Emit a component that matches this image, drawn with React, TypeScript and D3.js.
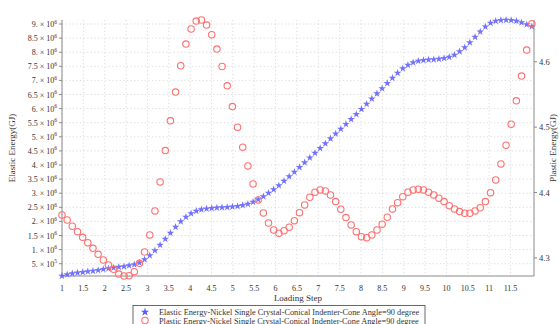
import React from "react";
import * as d3 from "d3";

// Loading step of every sample
const steps: number[] = [
  1, 1.121, 1.242, 1.363, 1.484, 1.604, 1.725, 1.846, 1.967, 2.088,
  2.209, 2.33, 2.451, 2.571, 2.692, 2.813, 2.934, 3.055, 3.176, 3.297,
  3.418, 3.538, 3.659, 3.78, 3.901, 4.022, 4.143, 4.264, 4.385, 4.505,
  4.626, 4.747, 4.868, 4.989, 5.11, 5.231, 5.352, 5.473, 5.593, 5.714,
  5.835, 5.956, 6.077, 6.198, 6.319, 6.44, 6.56, 6.681, 6.802, 6.923,
  7.044, 7.165, 7.286, 7.407, 7.527, 7.648, 7.769, 7.89, 8.011, 8.132,
  8.253, 8.374, 8.495, 8.615, 8.736, 8.857, 8.978, 9.099, 9.22, 9.341,
  9.462, 9.582, 9.703, 9.824, 9.945, 10.066, 10.187, 10.308, 10.429, 10.549,
  10.67, 10.791, 10.912, 11.033, 11.154, 11.275, 11.396, 11.516, 11.637, 11.758,
  11.879, 12,
];

// Elastic energy (GJ)
const elastic: number[] = [
  0.064e6, 0.117e6, 0.152e6, 0.177e6, 0.199e6, 0.223e6, 0.245e6, 0.27e6, 0.301e6, 0.33e6,
  0.355e6, 0.38e6, 0.404e6, 0.433e6, 0.472e6, 0.535e6, 0.649e6, 0.791e6, 0.968e6, 1.163e6,
  1.376e6, 1.589e6, 1.801e6, 1.996e6, 2.156e6, 2.28e6, 2.369e6, 2.422e6, 2.45e6, 2.468e6,
  2.482e6, 2.493e6, 2.504e6, 2.518e6, 2.539e6, 2.571e6, 2.617e6, 2.688e6, 2.777e6, 2.883e6,
  3.007e6, 3.131e6, 3.273e6, 3.433e6, 3.592e6, 3.752e6, 3.918e6, 4.089e6, 4.255e6, 4.426e6,
  4.596e6, 4.766e6, 4.936e6, 5.106e6, 5.277e6, 5.45e6, 5.624e6, 5.801e6, 5.982e6, 6.163e6,
  6.348e6, 6.532e6, 6.716e6, 6.901e6, 7.085e6, 7.262e6, 7.422e6, 7.546e6, 7.635e6, 7.688e6,
  7.716e6, 7.73e6, 7.741e6, 7.759e6, 7.787e6, 7.83e6, 7.901e6, 8.025e6, 8.167e6, 8.344e6,
  8.539e6, 8.727e6, 8.904e6, 9.035e6, 9.106e6, 9.131e6, 9.142e6, 9.131e6, 9.106e6, 9.053e6,
  8.982e6, 8.911e6,
];

// Plastic energy (GJ)
const plastic: number[] = [
  4.3657, 4.358, 4.3484, 4.3401, 4.3315, 4.3233, 4.3147, 4.3055, 4.2968, 4.2891,
  4.2825, 4.2753, 4.2723, 4.2727, 4.2789, 4.2917, 4.309, 4.3351, 4.3718, 4.4162,
  4.4642, 4.5096, 4.5536, 4.5939, 4.6271, 4.6501, 4.6623, 4.6639, 4.6562, 4.6413,
  4.6194, 4.5928, 4.5632, 4.5315, 4.5, 4.4694, 4.4407, 4.4132, 4.3887, 4.3688,
  4.3534, 4.3427, 4.3377, 4.3417, 4.3469, 4.357, 4.3692, 4.381, 4.3928, 4.4005,
  4.404, 4.4025, 4.3963, 4.3861, 4.3744, 4.3616, 4.3504, 4.3401, 4.3325, 4.3309,
  4.3351, 4.3427, 4.3515, 4.3622, 4.3749, 4.3845, 4.3937, 4.4005, 4.404, 4.4051,
  4.404, 4.4005, 4.3963, 4.3913, 4.3861, 4.3799, 4.3749, 4.3708, 4.3683, 4.3683,
  4.3718, 4.3767, 4.3861, 4.3998, 4.4193, 4.4438, 4.4724, 4.5046, 4.5403, 4.5781,
  4.6179, 4.6582,
];

const xTicks: number[] = [1, 1.5, 2, 2.5, 3, 3.5, 4, 4.5, 5, 5.5, 6, 6.5, 7, 7.5, 8, 8.5, 9, 9.5, 10, 10.5, 11, 11.5];
const leftTicks: number[] = [5e5, 1e6, 1.5e6, 2e6, 2.5e6, 3e6, 3.5e6, 4e6, 4.5e6, 5e6, 5.5e6, 6e6, 6.5e6, 7e6, 7.5e6, 8e6, 8.5e6, 9e6];
const rightTicks: number[] = [4.3, 4.4, 4.5, 4.6];

const seriesNames: string[] = [
  "Elastic Energy-Nickel Single Crystal-Conical Indenter-Cone Angle=90 degree",
  "Plastic Energy-Nickel Single Crystal-Conical Indenter-Cone Angle=90 degree",
];
const xTitle = "Loading Step";
const leftTitle = "Elastic Energy(GJ)";
const rightTitle = "Plastic Energy(GJ)";

const W = 560;
const H = 324;
const M = { left: 62, right: 534, top: 20, bottom: 276 };
const FONT = "'Liberation Serif', 'Times New Roman', serif";
const BLUE = "#5a5aff";
const RED = "#ff7070";
const GRID = "#d2d2d2";
const AXIS = "#8a8a8a";
const TXT = "#333";

function sciLabel(v: number) {
  const exp = Math.floor(Math.log10(v));
  const m = v / Math.pow(10, exp);
  const ms = Number.isInteger(Math.round(m * 1000) / 1000) ? `${Math.round(m)}.` : `${+m.toFixed(1)}`;
  return { ms, exp };
}

export default function App() {
  const x = d3.scaleLinear().domain([1, 12.05]).range([M.left, M.right]);
  const yL = d3.scaleLinear().domain(d3.extent(elastic) as [number, number]).range([M.bottom, M.top]);
  const yR = d3.scaleLinear().domain(d3.extent(plastic) as [number, number]).range([M.bottom, M.top]);
  const star = d3.symbol().type(d3.symbolStar).size(18)() as string;
  const legendStar = d3.symbol().type(d3.symbolStar).size(22)() as string;

  return (
    <svg width={W} height={H} style={{ position: "absolute", left: 0, top: 0, background: "#fff" }} fontFamily={FONT}>
      <rect x={0} y={0} width={W} height={H} fill="#fff" />
      {/* grid */}
      <g stroke={GRID} strokeWidth={0.8} strokeDasharray="1.2,2.4">
        {xTicks.map((t) => (
          <line key={"gx" + t} x1={x(t)} x2={x(t)} y1={M.top} y2={M.bottom} />
        ))}
        {leftTicks.map((t) => (
          <line key={"gy" + t} x1={M.left} x2={M.right} y1={yL(t)} y2={yL(t)} />
        ))}
      </g>
      {/* axes */}
      <g stroke={AXIS} strokeWidth={1}>
        <line x1={M.left} x2={M.left} y1={M.top} y2={M.bottom} />
        <line x1={M.right} x2={M.right} y1={M.top} y2={M.bottom} />
        <line x1={M.left} x2={M.right} y1={M.bottom} y2={M.bottom} />
        {leftTicks.map((t) => (
          <line key={"lt" + t} x1={M.left - 3} x2={M.left} y1={yL(t)} y2={yL(t)} />
        ))}
        {rightTicks.map((t) => (
          <line key={"rt" + t} x1={M.right} x2={M.right + 3} y1={yR(t)} y2={yR(t)} />
        ))}
      </g>
      {/* x tick labels */}
      <g fontSize={8} fill={TXT} textAnchor="middle">
        {xTicks.map((t) => (
          <text key={"xl" + t} x={x(t)} y={290.5}>
            {t}
          </text>
        ))}
      </g>
      {/* left tick labels */}
      <g fontSize={8} fill={TXT} textAnchor="end">
        {leftTicks.map((t) => {
          const { ms, exp } = sciLabel(t);
          return (
            <text key={"ll" + t} x={M.left - 5} y={yL(t) + 3}>
              {ms} × 10
              <tspan fontSize={5.5} dy={-3.5}>
                {exp}
              </tspan>
            </text>
          );
        })}
      </g>
      {/* right tick labels */}
      <g fontSize={8.5} fill={TXT} textAnchor="start">
        {rightTicks.map((t) => (
          <text key={"rl" + t} x={M.right + 5} y={yR(t) + 3}>
            {t}
          </text>
        ))}
      </g>
      {/* titles */}
      <text x={(M.left + M.right) / 2} y={300.5} fontSize={9} fill={TXT} textAnchor="middle">
        {xTitle}
      </text>
      <text transform={`translate(15,${(M.top + M.bottom) / 2}) rotate(-90)`} fontSize={9} fill={TXT} textAnchor="middle">
        {leftTitle}
      </text>
      <text transform={`translate(556,${(M.top + M.bottom) / 2}) rotate(-90)`} fontSize={9} fill={TXT} textAnchor="middle">
        {rightTitle}
      </text>
      {/* elastic stars */}
      <g fill={BLUE} opacity={0.85}>
        {steps.map((s, i) => (
          <path key={"e" + i} d={star} transform={`translate(${x(s)},${yL(elastic[i])})`} />
        ))}
      </g>
      {/* plastic circles */}
      <g fill="none" stroke={RED} strokeWidth={1.1}>
        {steps.map((s, i) => (
          <circle key={"p" + i} cx={x(s)} cy={yR(plastic[i])} r={3.2} />
        ))}
      </g>
      {/* legend */}
      <rect x={133} y={305.5} width={292} height={30} fill="#fff" stroke="#444" strokeWidth={0.8} />
      <path d={legendStar} transform="translate(145,312)" fill={BLUE} />
      <circle cx={145} cy={320.5} r={3.2} fill="none" stroke={RED} strokeWidth={1.1} />
      <text x={159} y={315} fontSize={8.3} fill={TXT}>
        {seriesNames[0]}
      </text>
      <text x={159} y={323.5} fontSize={8.3} fill={TXT}>
        {seriesNames[1]}
      </text>
    </svg>
  );
}
